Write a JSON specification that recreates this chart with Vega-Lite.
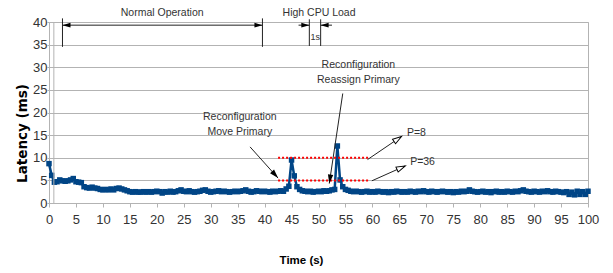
{
  "$schema": "https://vega.github.io/schema/vega-lite/v6.json",
  "width": 539,
  "height": 181,
  "autosize": {"type": "none"},
  "padding": {"left": 49, "top": 22, "right": 25, "bottom": 70},
  "background": "white",
  "config": {
    "view": {"stroke": "#b3b3b3", "strokeWidth": 1},
    "axis": {
      "labelFont": "Liberation Sans",
      "labelFontSize": 13,
      "labelColor": "#333333",
      "labelOverlap": false,
      "titleFont": "Liberation Sans",
      "titleFontWeight": "bold",
      "titleColor": "#000000",
      "domainColor": "#b3b3b3",
      "tickColor": "#b3b3b3",
      "gridColor": "#b3b3b3"
    },
    "text": {"font": "Liberation Sans", "fontSize": 10.5, "color": "#333333"}
  },
  "datasets": {
    "series": [
      {"t": 0, "latency": 8.7}, {"t": 0.5, "latency": 6.1}, {"t": 1, "latency": 4.6}, {"t": 1.5, "latency": 4.7},
      {"t": 2, "latency": 5.1}, {"t": 2.5, "latency": 4.9}, {"t": 3, "latency": 4.8}, {"t": 3.5, "latency": 4.9},
      {"t": 4, "latency": 5.1}, {"t": 4.5, "latency": 5.4}, {"t": 5, "latency": 4.7}, {"t": 5.5, "latency": 4.6},
      {"t": 6, "latency": 4.5}, {"t": 6.5, "latency": 3.6}, {"t": 7, "latency": 3.4}, {"t": 7.5, "latency": 3.3},
      {"t": 8, "latency": 3.5}, {"t": 8.5, "latency": 3.3}, {"t": 9, "latency": 3.2}, {"t": 9.5, "latency": 3.0},
      {"t": 10, "latency": 2.9}, {"t": 10.5, "latency": 3.0}, {"t": 11, "latency": 2.9}, {"t": 11.5, "latency": 3.1},
      {"t": 12, "latency": 2.9}, {"t": 12.5, "latency": 3.2}, {"t": 13, "latency": 3.3}, {"t": 13.5, "latency": 3.1},
      {"t": 14, "latency": 2.9}, {"t": 14.5, "latency": 2.7}, {"t": 15, "latency": 2.5}, {"t": 15.5, "latency": 2.4},
      {"t": 16, "latency": 2.5}, {"t": 16.5, "latency": 2.4}, {"t": 17, "latency": 2.4}, {"t": 17.5, "latency": 2.5},
      {"t": 18, "latency": 2.4}, {"t": 18.5, "latency": 2.5}, {"t": 19, "latency": 2.4}, {"t": 19.5, "latency": 2.5},
      {"t": 20, "latency": 2.6}, {"t": 20.5, "latency": 2.5}, {"t": 21, "latency": 2.2}, {"t": 21.5, "latency": 2.5},
      {"t": 22, "latency": 2.4}, {"t": 22.5, "latency": 2.6}, {"t": 23, "latency": 2.4}, {"t": 23.5, "latency": 2.5},
      {"t": 24, "latency": 2.7}, {"t": 24.5, "latency": 2.9}, {"t": 25, "latency": 2.6}, {"t": 25.5, "latency": 2.5},
      {"t": 26, "latency": 2.7}, {"t": 26.5, "latency": 2.5}, {"t": 27, "latency": 2.4}, {"t": 27.5, "latency": 2.5},
      {"t": 28, "latency": 2.6}, {"t": 28.5, "latency": 2.8}, {"t": 29, "latency": 2.9}, {"t": 29.5, "latency": 2.6},
      {"t": 30, "latency": 2.4}, {"t": 30.5, "latency": 2.5}, {"t": 31, "latency": 2.6}, {"t": 31.5, "latency": 2.7},
      {"t": 32, "latency": 2.5}, {"t": 32.5, "latency": 2.6}, {"t": 33, "latency": 2.5}, {"t": 33.5, "latency": 2.4},
      {"t": 34, "latency": 2.5}, {"t": 34.5, "latency": 2.6}, {"t": 35, "latency": 2.5}, {"t": 35.5, "latency": 2.6},
      {"t": 36, "latency": 2.7}, {"t": 36.5, "latency": 2.9}, {"t": 37, "latency": 2.6}, {"t": 37.5, "latency": 2.4},
      {"t": 38, "latency": 2.5}, {"t": 38.5, "latency": 2.7}, {"t": 39, "latency": 2.6}, {"t": 39.5, "latency": 2.5},
      {"t": 40, "latency": 2.6}, {"t": 40.5, "latency": 2.5}, {"t": 41, "latency": 2.4}, {"t": 41.5, "latency": 2.6},
      {"t": 42, "latency": 2.5}, {"t": 42.5, "latency": 2.6}, {"t": 43, "latency": 2.7}, {"t": 43.5, "latency": 2.6},
      {"t": 44, "latency": 3.1}, {"t": 44.5, "latency": 3.7}, {"t": 45, "latency": 9.5}, {"t": 45.5, "latency": 6.0},
      {"t": 46, "latency": 3.6}, {"t": 46.5, "latency": 3.0}, {"t": 47, "latency": 2.7}, {"t": 47.5, "latency": 2.6},
      {"t": 48, "latency": 2.5}, {"t": 48.5, "latency": 2.6}, {"t": 49, "latency": 2.4}, {"t": 49.5, "latency": 2.5},
      {"t": 50, "latency": 2.6}, {"t": 50.5, "latency": 2.5}, {"t": 51, "latency": 2.7}, {"t": 51.5, "latency": 2.6},
      {"t": 52, "latency": 2.7}, {"t": 52.5, "latency": 2.9}, {"t": 53, "latency": 3.0}, {"t": 53.5, "latency": 12.6},
      {"t": 54, "latency": 5.1}, {"t": 54.5, "latency": 3.6}, {"t": 55, "latency": 3.0}, {"t": 55.5, "latency": 2.8},
      {"t": 56, "latency": 2.6}, {"t": 56.5, "latency": 2.5}, {"t": 57, "latency": 2.6}, {"t": 57.5, "latency": 2.5},
      {"t": 58, "latency": 2.4}, {"t": 58.5, "latency": 2.5}, {"t": 59, "latency": 2.6}, {"t": 59.5, "latency": 2.4},
      {"t": 60, "latency": 2.5}, {"t": 60.5, "latency": 2.4}, {"t": 61, "latency": 2.6}, {"t": 61.5, "latency": 2.5},
      {"t": 62, "latency": 2.4}, {"t": 62.5, "latency": 2.5}, {"t": 63, "latency": 2.3}, {"t": 63.5, "latency": 2.5},
      {"t": 64, "latency": 2.4}, {"t": 64.5, "latency": 2.6}, {"t": 65, "latency": 2.5}, {"t": 65.5, "latency": 2.4},
      {"t": 66, "latency": 2.5}, {"t": 66.5, "latency": 2.4}, {"t": 67, "latency": 2.6}, {"t": 67.5, "latency": 2.5},
      {"t": 68, "latency": 2.4}, {"t": 68.5, "latency": 2.6}, {"t": 69, "latency": 2.5}, {"t": 69.5, "latency": 2.7},
      {"t": 70, "latency": 2.5}, {"t": 70.5, "latency": 2.4}, {"t": 71, "latency": 2.6}, {"t": 71.5, "latency": 2.5},
      {"t": 72, "latency": 2.4}, {"t": 72.5, "latency": 2.5}, {"t": 73, "latency": 2.6}, {"t": 73.5, "latency": 2.5},
      {"t": 74, "latency": 2.4}, {"t": 74.5, "latency": 2.5}, {"t": 75, "latency": 2.3}, {"t": 75.5, "latency": 2.5},
      {"t": 76, "latency": 2.4}, {"t": 76.5, "latency": 2.6}, {"t": 77, "latency": 2.5}, {"t": 77.5, "latency": 2.6},
      {"t": 78, "latency": 2.9}, {"t": 78.5, "latency": 2.6}, {"t": 79, "latency": 2.5}, {"t": 79.5, "latency": 2.4},
      {"t": 80, "latency": 2.5}, {"t": 80.5, "latency": 2.6}, {"t": 81, "latency": 2.4}, {"t": 81.5, "latency": 2.5},
      {"t": 82, "latency": 2.3}, {"t": 82.5, "latency": 2.5}, {"t": 83, "latency": 2.6}, {"t": 83.5, "latency": 2.4},
      {"t": 84, "latency": 2.5}, {"t": 84.5, "latency": 2.4}, {"t": 85, "latency": 2.6}, {"t": 85.5, "latency": 2.5},
      {"t": 86, "latency": 2.4}, {"t": 86.5, "latency": 2.6}, {"t": 87, "latency": 2.5}, {"t": 87.5, "latency": 2.7},
      {"t": 88, "latency": 2.9}, {"t": 88.5, "latency": 2.6}, {"t": 89, "latency": 2.5}, {"t": 89.5, "latency": 2.4},
      {"t": 90, "latency": 2.6}, {"t": 90.5, "latency": 2.5}, {"t": 91, "latency": 2.4}, {"t": 91.5, "latency": 2.6},
      {"t": 92, "latency": 2.5}, {"t": 92.5, "latency": 2.7}, {"t": 93, "latency": 2.5}, {"t": 93.5, "latency": 2.4},
      {"t": 94, "latency": 2.6}, {"t": 94.5, "latency": 2.5}, {"t": 95, "latency": 2.4}, {"t": 95.5, "latency": 2.3},
      {"t": 96, "latency": 2.5}, {"t": 96.5, "latency": 1.9}, {"t": 97, "latency": 2.4}, {"t": 97.5, "latency": 1.8},
      {"t": 98, "latency": 2.6}, {"t": 98.5, "latency": 1.9}, {"t": 99, "latency": 2.5}, {"t": 99.5, "latency": 1.9},
      {"t": 100, "latency": 2.6}
    ],
    "thresholds": [
      {"x": 42.5, "x2": 59.2, "y": 10},
      {"x": 42.5, "x2": 59.2, "y": 5}
    ],
    "segments": [
      {"x": 2.5, "y": 34.5, "x2": 2.5, "y2": 40.8},
      {"x": 39.6, "y": 34.5, "x2": 39.6, "y2": 40.8},
      {"x": 2.5, "y": 39.3, "x2": 39.6, "y2": 39.3},
      {"x": 48.3, "y": 34.7, "x2": 48.3, "y2": 40.6},
      {"x": 50.4, "y": 34.7, "x2": 50.4, "y2": 40.6},
      {"x": 46.3, "y": 39.3, "x2": 48.3, "y2": 39.3},
      {"x": 50.4, "y": 39.3, "x2": 52.5, "y2": 39.3},
      {"x": 37.3, "y": 12.4, "x2": 42.5, "y2": 5.5},
      {"x": 54.5, "y": 24.2, "x2": 52.0, "y2": 4.3},
      {"x": 59.1, "y": 9.6, "x2": 65.4, "y2": 14.7},
      {"x": 59.9, "y": 4.9, "x2": 66.1, "y2": 8.2}
    ],
    "labels": [
      {"x": 21.0, "y": 42.0, "label": "Normal Operation"},
      {"x": 50.1, "y": 42.0, "label": "High CPU Load"},
      {"x": 35.4, "y": 19.0, "label": "Reconfiguration"},
      {"x": 35.4, "y": 15.7, "label": "Move Primary"},
      {"x": 57.4, "y": 30.5, "label": "Reconfiguration"},
      {"x": 57.4, "y": 27.2, "label": "Reassign Primary"}
    ],
    "leftLabels": [
      {"x": 66.4, "y": 15.5, "label": "P=8"},
      {"x": 67.0, "y": 9.1, "label": "P=36"}
    ]
  },
  "layer": [
    {
      "data": {"name": "series"},
      "mark": {"type": "line", "color": "#004586", "strokeWidth": 2.5, "point": {"shape": "square", "size": 30, "filled": true, "color": "#004586", "opacity": 1}},
      "encoding": {
        "x": {
          "field": "t", "type": "quantitative", "title": "Time (s)",
          "scale": {"domain": [0, 100], "nice": false},
          "axis": {
            "tickCount": 20,
            "grid": false, "tickSize": 4, "labelPadding": 6, "labelFlush": false, "labelOverlap": false,
            "titleFontSize": 11.5, "titleX": 252, "titleY": 60, "titleBaseline": "alphabetic", "titleAnchor": "start", "titleAlign": "center"
          }
        },
        "y": {
          "field": "latency", "type": "quantitative", "title": "Latency (ms)",
          "scale": {"domain": [0, 40], "nice": false},
          "axis": {
            "tickCount": 8,
            "grid": true, "tickSize": 2, "labelPadding": 0, "labelFlush": false, "labelOverlap": false,
            "titleFont": "DejaVu Sans", "titleFontSize": 13.5, "titleX": -26.5, "titleY": 111, "titleAngle": -90,
            "titleAlign": "center", "titleBaseline": "middle"
          }
        }
      }
    },
    {
      "data": {"values": [{"x": 0.9, "y": 0, "y2": 40}]},
      "mark": {"type": "rule", "color": "#b3b3b3", "strokeWidth": 1},
      "encoding": {
        "x": {"field": "x", "type": "quantitative"},
        "y": {"field": "y", "type": "quantitative"},
        "y2": {"field": "y2"}
      }
    },
    {
      "data": {"name": "thresholds"},
      "mark": {"type": "rule", "color": "#ff0000", "strokeWidth": 2, "strokeDash": [2, 2]},
      "encoding": {
        "x": {"field": "x", "type": "quantitative"},
        "x2": {"field": "x2"},
        "y": {"field": "y", "type": "quantitative"}
      }
    },
    {
      "data": {"name": "segments"},
      "mark": {"type": "rule", "color": "#222222", "strokeWidth": 1},
      "encoding": {
        "x": {"field": "x", "type": "quantitative"},
        "y": {"field": "y", "type": "quantitative"},
        "x2": {"field": "x2"},
        "y2": {"field": "y2"}
      }
    },
    {
      "data": {"values": [{"x": 2.5, "y": 39.3}, {"x": 50.4, "y": 39.3}]},
      "mark": {"type": "point", "shape": "M0,0L-0.6,2L0.6,2Z", "size": 64, "angle": 270, "filled": true, "color": "#000000", "opacity": 1},
      "encoding": {"x": {"field": "x", "type": "quantitative"}, "y": {"field": "y", "type": "quantitative"}}
    },
    {
      "data": {"values": [{"x": 39.6, "y": 39.3}, {"x": 48.3, "y": 39.3}]},
      "mark": {"type": "point", "shape": "M0,0L-0.6,2L0.6,2Z", "size": 64, "angle": 90, "filled": true, "color": "#000000", "opacity": 1},
      "encoding": {"x": {"field": "x", "type": "quantitative"}, "y": {"field": "y", "type": "quantitative"}}
    },
    {
      "data": {"values": [{"x": 42.5, "y": 5.5}]},
      "mark": {"type": "point", "shape": "M0,0L-0.6,2L0.6,2Z", "size": 81, "angle": 138, "filled": true, "color": "#000000", "opacity": 1},
      "encoding": {"x": {"field": "x", "type": "quantitative"}, "y": {"field": "y", "type": "quantitative"}}
    },
    {
      "data": {"values": [{"x": 52.0, "y": 4.3}]},
      "mark": {"type": "point", "shape": "M0,0L-0.6,2L0.6,2Z", "size": 81, "angle": 188.5, "filled": true, "color": "#000000", "opacity": 1},
      "encoding": {"x": {"field": "x", "type": "quantitative"}, "y": {"field": "y", "type": "quantitative"}}
    },
    {
      "data": {"values": [{"x": 65.4, "y": 14.7}]},
      "mark": {"type": "point", "shape": "M0,0L-0.6,2L0.6,2Z", "size": 81, "angle": 56, "filled": true, "fill": "#ffffff", "stroke": "#000000", "strokeWidth": 1, "opacity": 1},
      "encoding": {"x": {"field": "x", "type": "quantitative"}, "y": {"field": "y", "type": "quantitative"}}
    },
    {
      "data": {"values": [{"x": 66.1, "y": 8.2}]},
      "mark": {"type": "point", "shape": "M0,0L-0.6,2L0.6,2Z", "size": 81, "angle": 66, "filled": true, "fill": "#ffffff", "stroke": "#000000", "strokeWidth": 1, "opacity": 1},
      "encoding": {"x": {"field": "x", "type": "quantitative"}, "y": {"field": "y", "type": "quantitative"}}
    },
    {
      "data": {"name": "labels"},
      "mark": {"type": "text", "align": "center", "baseline": "middle"},
      "encoding": {
        "x": {"field": "x", "type": "quantitative"},
        "y": {"field": "y", "type": "quantitative"},
        "text": {"field": "label"}
      }
    },
    {
      "data": {"name": "leftLabels"},
      "mark": {"type": "text", "align": "left", "baseline": "middle"},
      "encoding": {
        "x": {"field": "x", "type": "quantitative"},
        "y": {"field": "y", "type": "quantitative"},
        "text": {"field": "label"}
      }
    },
    {
      "data": {"values": [{"x": 49.4, "y": 36.6, "label": "1s"}]},
      "mark": {"type": "text", "align": "center", "baseline": "middle", "fontSize": 9},
      "encoding": {
        "x": {"field": "x", "type": "quantitative"},
        "y": {"field": "y", "type": "quantitative"},
        "text": {"field": "label"}
      }
    }
  ]
}
